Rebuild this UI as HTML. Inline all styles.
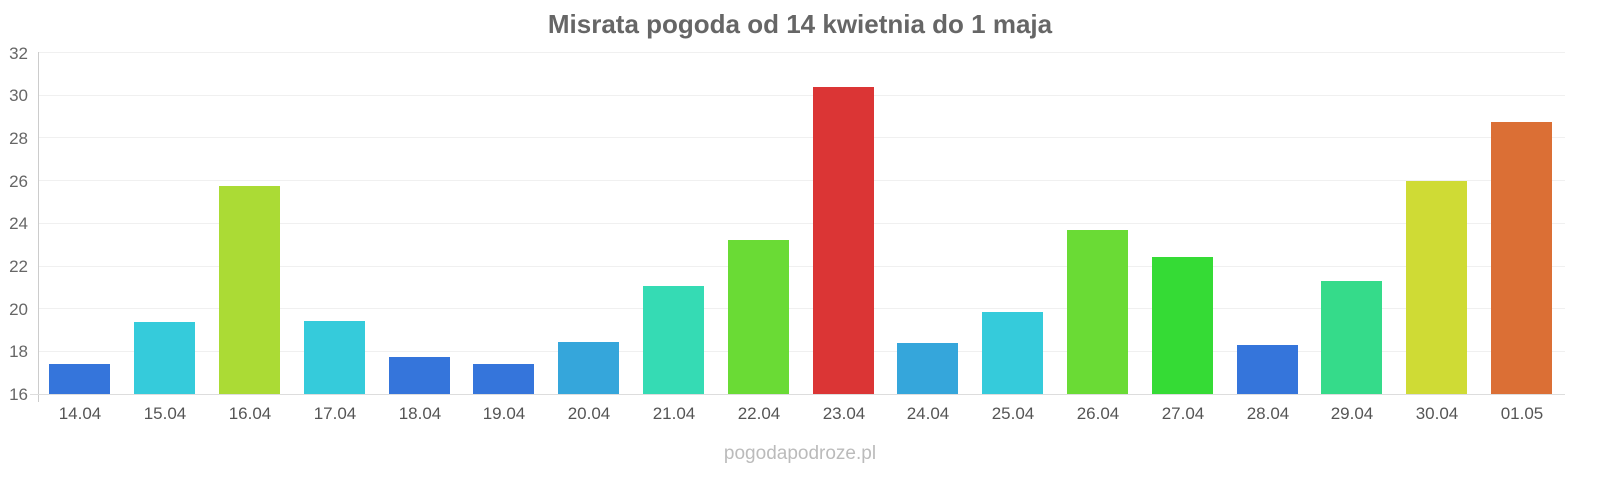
<!DOCTYPE html>
<html><head><meta charset="utf-8"><style>
body{margin:0;background:#fff;width:1600px;height:480px;overflow:hidden}
svg{font-family:"Liberation Sans",sans-serif}
</style></head><body>
<svg width="1600" height="480" xmlns="http://www.w3.org/2000/svg">
<text x="800" y="33" text-anchor="middle" font-size="26" font-weight="bold" fill="#666">Misrata pogoda od 14 kwietnia do 1 maja</text>
<g stroke="#f0f0f0" stroke-width="1">
<line x1="38" x2="1565" y1="52.5" y2="52.5"/><line x1="38" x2="1565" y1="95.5" y2="95.5"/>
<line x1="38" x2="1565" y1="137.5" y2="137.5"/><line x1="38" x2="1565" y1="180.5" y2="180.5"/>
<line x1="38" x2="1565" y1="223.5" y2="223.5"/><line x1="38" x2="1565" y1="266.5" y2="266.5"/>
<line x1="38" x2="1565" y1="308.5" y2="308.5"/><line x1="38" x2="1565" y1="351.5" y2="351.5"/>
</g>
<line x1="38.5" x2="38.5" y1="52" y2="402" stroke="#ccc"/>
<line x1="30" x2="1565" y1="394.5" y2="394.5" stroke="#ddd"/>
<g font-size="17" fill="#666" text-anchor="end">
<text x="28" y="59">32</text><text x="28" y="101">30</text><text x="28" y="144">28</text>
<text x="28" y="187">26</text><text x="28" y="229">24</text><text x="28" y="272">22</text>
<text x="28" y="315">20</text><text x="28" y="357">18</text><text x="28" y="400">16</text>
</g>
<g>
<rect x="49" y="364" width="61" height="30" fill="#3575db"/>
<rect x="134" y="322" width="61" height="72" fill="#35cbdb"/>
<rect x="219" y="186" width="61" height="208" fill="#abdb35"/>
<rect x="304" y="321" width="61" height="73" fill="#35cbdb"/>
<rect x="389" y="357" width="61" height="37" fill="#3575db"/>
<rect x="473" y="364" width="61" height="30" fill="#3575db"/>
<rect x="558" y="342" width="61" height="52" fill="#35a6db"/>
<rect x="643" y="286" width="61" height="108" fill="#35dbb4"/>
<rect x="728" y="240" width="61" height="154" fill="#6adb35"/>
<rect x="813" y="87" width="61" height="307" fill="#db3535"/>
<rect x="897" y="343" width="61" height="51" fill="#35a6db"/>
<rect x="982" y="312" width="61" height="82" fill="#35cbdb"/>
<rect x="1067" y="230" width="61" height="164" fill="#6adb35"/>
<rect x="1152" y="257" width="61" height="137" fill="#35db35"/>
<rect x="1237" y="345" width="61" height="49" fill="#3575db"/>
<rect x="1321" y="281" width="61" height="113" fill="#35db8a"/>
<rect x="1406" y="181" width="61" height="213" fill="#cfdb35"/>
<rect x="1491" y="122" width="61" height="272" fill="#db6f35"/>
</g>
<g font-size="17" fill="#555" text-anchor="middle">
<text x="80" y="419">14.04</text><text x="165" y="419">15.04</text><text x="250" y="419">16.04</text>
<text x="335" y="419">17.04</text><text x="420" y="419">18.04</text><text x="504" y="419">19.04</text>
<text x="589" y="419">20.04</text><text x="674" y="419">21.04</text><text x="759" y="419">22.04</text>
<text x="844" y="419">23.04</text><text x="928" y="419">24.04</text><text x="1013" y="419">25.04</text>
<text x="1098" y="419">26.04</text><text x="1183" y="419">27.04</text><text x="1268" y="419">28.04</text>
<text x="1352" y="419">29.04</text><text x="1437" y="419">30.04</text><text x="1522" y="419">01.05</text>
</g>
<text x="800" y="459" text-anchor="middle" font-size="19" fill="#bbb">pogodapodroze.pl</text>
</svg>
</body></html>
